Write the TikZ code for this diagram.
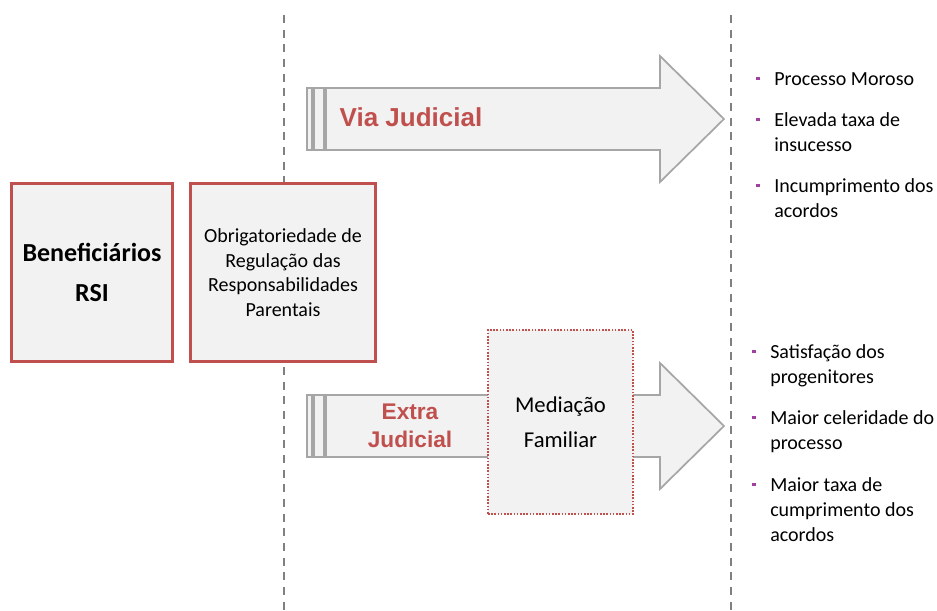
\documentclass[tikz,border=0pt]{standalone}
\usepackage{fontspec}
\setmainfont{Carlito}
\newfontfamily\arialfont{Liberation Sans}
\usepackage{tikz}
\usetikzlibrary{positioning}
\definecolor{boxred}{HTML}{C0504D}
\definecolor{boxfill}{HTML}{F2F2F2}
\definecolor{arrowgray}{HTML}{A6A6A6}
\definecolor{guidegray}{HTML}{808080}
\definecolor{bulletc}{HTML}{A040A0}
\tikzstyle{guide} = [guidegray, line width=2.2pt, dash pattern=on 6pt off 5pt]
\tikzstyle{redbox} = [rectangle, draw=boxred, line width=2.3pt, fill=boxfill, align=center, minimum width=121pt, minimum height=134pt]
\tikzstyle{fatarrow} = [draw=arrowgray, line width=1.3pt, fill=boxfill]
\tikzstyle{arrowlabel} = [text=boxred, align=center]
\tikzstyle{mediation} = [rectangle, draw=boxred, line width=0.8pt, dash pattern=on 1.2pt off 1.2pt, fill=boxfill, minimum width=108.75pt, minimum height=138pt, align=center]
\tikzstyle{result} = [anchor=base west, inner sep=0pt, align=left, font=\fontsize{15}{18.75}\selectfont]
\newcommand\dotbullet{\llap{\textcolor{bulletc}{\rule[0.25em]{2.4pt}{2.4pt}}\hspace{11pt}}}
\newcommand\stripedarrow[1]{% #1 = y of the arrow axis
	\draw [fatarrow] (307,#1-31) rectangle (312,#1+31);
	\draw [fatarrow] (314,#1-31) rectangle (324,#1+31);
	\draw [fatarrow] (326,#1-31) -- (660,#1-31) -- (660,#1-63) -- (724,#1)
		-- (660,#1+63) -- (660,#1+31) -- (326,#1+31) -- cycle;
}
\begin{document}
\begin{tikzpicture}[x=0.75pt, y=-0.75pt]
\useasboundingbox (0,0) rectangle (937,610);
%----------------------------------------------------------------------------
% Guide lines and arrows
\draw [guide] (284,15) -- (284,610);
\draw [guide] (731,15) -- (731,610);

\stripedarrow{119}
\stripedarrow{426}

%----------------------------------------------------------------------------
% Placement of boxes
\node (benef) [redbox, font=\fontsize{19.5}{30}\selectfont\bfseries] at (92,272.5)
{Beneficiários\\RSI};

\node (regulation) [redbox, minimum width=139pt, font=\fontsize{15}{18.4}\selectfont] at (283,272.5)
{Obrigatoriedade de\\Regulação das\\Responsabilidades\\Parentais};

\node (viaJud) [arrowlabel, font=\fontsize{19.5}{23}\selectfont\arialfont\bfseries] at (411,117)
{Via Judicial};

\node (extraJud) [arrowlabel, font=\fontsize{17}{21}\selectfont\arialfont\bfseries] at (410,426)
{Extra\\Judicial};

\node (mediation) [mediation, font=\fontsize{17}{26}\selectfont] at (560.5,422)
{Mediação\\Familiar};

%----------------------------------------------------------------------------
% Results of each way (base = last line)
\node (slow) [result] at (774,85) {\dotbullet Processo Moroso};
\node (failure) [result] at (774,151) {\dotbullet Elevada taxa de\\insucesso};
\node (breach) [result] at (774,217) {\dotbullet Incumprimento dos\\acordos};

\node (satisfied) [result] at (770,383) {\dotbullet Satisfação dos\\progenitores};
\node (faster) [result] at (770,449) {\dotbullet Maior celeridade do\\processo};
\node (compliance) [result] at (770,541) {\dotbullet Maior taxa de\\cumprimento dos\\acordos};
\end{tikzpicture}
\end{document}
